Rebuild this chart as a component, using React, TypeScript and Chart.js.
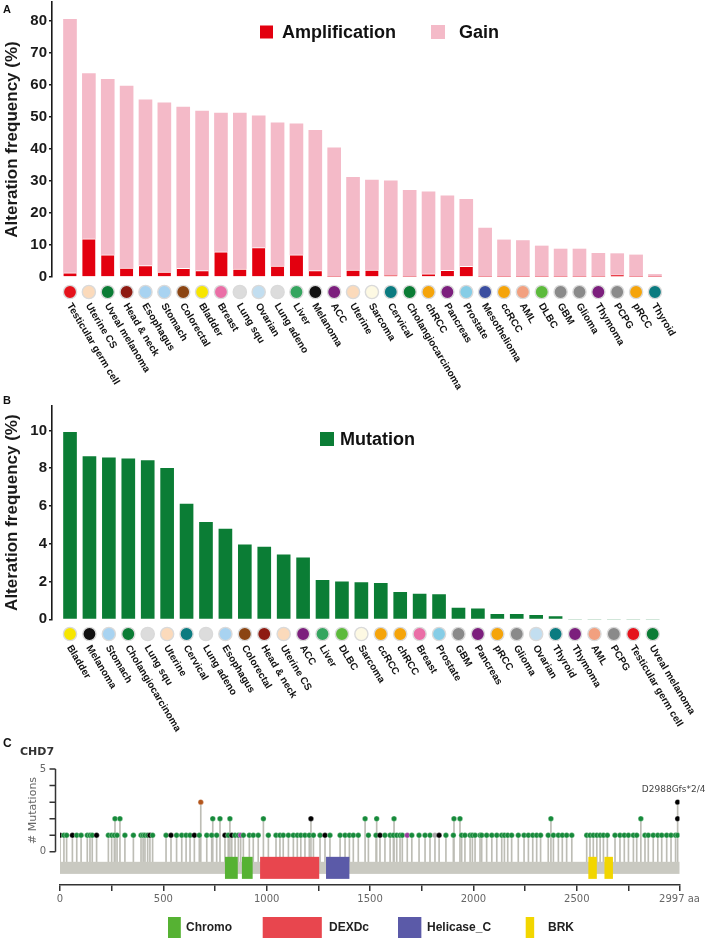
import React, { useEffect, useRef } from 'react';
import { Chart, registerables } from 'chart.js';

Chart.register(...registerables);

const FONT = "'Liberation Sans', Arial, Helvetica, sans-serif";
const CFONT = "'DejaVu Sans', Verdana, sans-serif";

// ---------- Panel A: copy-number alterations ----------
const cnaCancers = [
  'Testicular germ cell', 'Uterine CS', 'Uveal melanoma', 'Head & neck', 'Esophagus', 'Stomach',
  'Colorectal', 'Bladder', 'Breast', 'Lung squ', 'Ovarian', 'Lung adeno', 'Liver', 'Melanoma', 'ACC',
  'Uterine', 'Sarcoma', 'Cervical', 'Cholangiocarcinoma', 'chRCC', 'Pancreas', 'Prostate',
  'Mesothelioma', 'ccRCC', 'AML', 'DLBC', 'GBM', 'Glioma', 'Thymoma', 'PCPG', 'pRCC', 'Thyroid',
];
const amplification = [
  1.3, 11.9, 6.9, 2.8, 3.6, 1.5, 2.7, 2.0, 7.9, 2.5, 9.2, 3.4, 6.9, 2.0, 0,
  2.2, 2.2, 0.5, 0, 1.0, 2.1, 3.3, 0, 0, 0, 0, 0, 0, 0, 0.7, 0, 0,
];
const gain = [
  79.3, 51.7, 54.9, 56.9, 51.8, 53.0, 50.4, 49.9, 43.4, 48.8, 41.2, 44.8, 41.0, 43.9, 40.4,
  29.0, 28.1, 29.6, 27.1, 25.6, 23.3, 21.0, 15.3, 11.6, 11.4, 9.7, 8.75, 8.75, 7.4, 6.6, 6.9, 0.8,
];
const cnaTicks = [0, 10, 20, 30, 40, 50, 60, 70, 80];

// ---------- Panel B: mutations ----------
const mutCancers = [
  'Bladder', 'Melanoma', 'Stomach', 'Cholangiocarcinoma', 'Lung squ', 'Uterine', 'Cervical',
  'Lung adeno', 'Esophagus', 'Colorectal', 'Head & neck', 'Uterine CS', 'ACC', 'Liver', 'DLBC',
  'Sarcoma', 'ccRCC', 'chRCC', 'Breast', 'Prostate', 'GBM', 'Pancreas', 'pRCC', 'Glioma',
  'Ovarian', 'Thyroid', 'Thymoma', 'AML', 'PCPG', 'Testicular germ cell', 'Uveal melanoma',
];
const mutationFreq = [
  9.91, 8.62, 8.55, 8.5, 8.41, 8.0, 6.11, 5.14, 4.78, 3.95, 3.83, 3.42, 3.25, 2.07, 1.99,
  1.94, 1.91, 1.43, 1.34, 1.31, 0.6, 0.56, 0.26, 0.26, 0.21, 0.14, 0, 0, 0, 0, 0,
];
const mutTicks = [0, 2, 4, 6, 8, 10];

const cancerColors: Record<string, string> = {
  'Testicular germ cell': '#e5121b', 'Uterine CS': '#fbdabb', 'Uveal melanoma': '#0b7c35',
  'Head & neck': '#8e1b12', 'Esophagus': '#a8d3f1', 'Stomach': '#a8d3f1', 'Colorectal': '#8b4513',
  'Bladder': '#f7e600', 'Breast': '#ea6ea6', 'Lung squ': '#dcdcdc', 'Ovarian': '#c2def0',
  'Lung adeno': '#dcdcdc', 'Liver': '#35a55f', 'Melanoma': '#111111', 'ACC': '#7c1f7d',
  'Uterine': '#fbdabb', 'Sarcoma': '#fdf9e3', 'Cervical': '#0b7b80', 'Cholangiocarcinoma': '#0b7c35',
  'chRCC': '#f5a40a', 'Pancreas': '#7c1f7d', 'Prostate': '#86cde6', 'Mesothelioma': '#3b4ea0',
  'ccRCC': '#f5a40a', 'AML': '#f2a07f', 'DLBC': '#5cba3c', 'GBM': '#8a8a8a', 'Glioma': '#8a8a8a',
  'Thymoma': '#7c1f7d', 'PCPG': '#8a8a8a', 'pRCC': '#f5a40a', 'Thyroid': '#0b7b80',
};

// ---------- Panel C: CHD7 lollipop ----------
const geneName = 'CHD7';
const proteinLength = 2997;
const mutPositions = [
  0, 19, 32, 60, 81, 102, 132, 145, 156, 177, 234, 250, 263, 266, 276, 290, 314, 355, 392, 402,
  411, 424, 435, 448, 513, 537, 564, 589, 610, 629, 650, 674, 681, 710, 734, 739, 758, 774, 798,
  814, 822, 831, 847, 863, 874, 887, 916, 935, 959, 984, 1008, 1045, 1064, 1080, 1105, 1129, 1148,
  1165, 1185, 1206, 1214, 1226, 1258, 1282, 1306, 1355, 1379, 1400, 1419, 1443, 1476, 1492, 1529,
  1532, 1548, 1572, 1597, 1613, 1616, 1629, 1645, 1656, 1680, 1702, 1737, 1766, 1790, 1814, 1834,
  1867, 1903, 1906, 1935, 1943, 1959, 1984, 1995, 2008, 2032, 2040, 2064, 2089, 2113, 2137, 2150,
  2166, 2185, 2217, 2245, 2266, 2287, 2306, 2325, 2362, 2375, 2387, 2411, 2430, 2451, 2476, 2548,
  2564, 2580, 2597, 2613, 2629, 2648, 2685, 2709, 2730, 2750, 2774, 2790, 2810, 2830, 2846, 2870,
  2892, 2911, 2935, 2956, 2978, 2988,
];
const mutCounts = [
  1, 1, 1, 1, 1, 1, 1, 1, 1, 1, 1, 1, 1, 2, 1, 2, 1, 1, 1, 1,
  1, 1, 1, 1, 1, 1, 1, 1, 1, 1, 1, 1, 3, 1, 1, 2, 1, 2, 1,
  1, 2, 1, 1, 1, 1, 1, 1, 1, 1, 2, 1, 1, 1, 1, 1, 1, 1,
  1, 1, 1, 2, 1, 1, 1, 1, 1, 1, 1, 1, 1, 2, 1, 1,
  2, 1, 1, 1, 1, 2, 1, 1, 1, 1, 1, 1, 1, 1, 1, 1,
  1, 1, 2, 2, 1, 1, 1, 1, 1, 1, 1, 1, 1, 1, 1, 1,
  1, 1, 1, 1, 1, 1, 1, 1, 1, 2, 1, 1, 1, 1, 1, 1,
  1, 1, 1, 1, 1, 1, 1, 1, 1, 1, 1, 1, 2, 1, 1, 1,
  1, 1, 1, 1, 1, 3,
];
// m = missense, t = truncating, i = inframe, o = other, s = splice
const mutTypes = [
  't', 'm', 'm', 't', 'm', 'm', 'm', 'm', 'm', 't', 'm', 'm', 'm', 'm', 'm', 'm', 'm', 'm', 'm', 'm',
  'm', 'm', 't', 'm', 'm', 't', 'm', 'm', 'm', 'm', 't', 'm', 'i', 'm', 'm', 'm', 'm', 'm', 't',
  'm', 'm', 't', 'm', 'm', 'o', 'm', 'm', 'm', 'm', 'm', 'm', 'm', 'm', 'm', 'm', 'm', 'm',
  'm', 'm', 'm', 't', 'm', 'm', 't', 'm', 'm', 'm', 'm', 'm', 'm', 'm', 'm', 'm',
  'm', 't', 'm', 'm', 'm', 'm', 'm', 'm', 'm', 'o', 'm', 'm', 'm', 'm', 's', 't',
  'm', 'm', 'm', 'm', 'm', 'm', 'm', 'm', 'm', 'm', 'm', 'm', 'm', 'm', 'm', 'm',
  'm', 'm', 'm', 'm', 'm', 'm', 'm', 'm', 'm', 'm', 'm', 'm', 'm', 'm', 'm', 'm',
  'm', 'm', 'm', 'm', 'm', 'm', 'm', 'm', 'm', 'm', 'm', 'm', 'm', 'm', 'm', 'm',
  'm', 'm', 'm', 'm', 'm', 't',
];
const extraHeadPositions = [2988, 2988];
const extraHeadCounts = [2, 1];
const extraHeadTypes = ['t', 'm'];
const hotspotLabel = 'D2988Gfs*2/4';
const hotspotPosition = 2988;
const hotspotCount = 3;

const domainNames = ['Chromo', 'Chromo', 'DEXDc', 'Helicase_C', 'BRK', 'BRK'];
const domainStarts = [798, 880, 968, 1287, 2556, 2634];
const domainEnds = [860, 932, 1254, 1400, 2597, 2675];
const domainLegend = ['Chromo', 'DEXDc', 'Helicase_C', 'BRK'];
const cXTicks = [0, 250, 500, 750, 1000, 1250, 1500, 1750, 2000, 2250, 2500, 2750, 2997];

const typeColors: Record<string, string> = {
  m: '#168a3a', t: '#000000', i: '#b3561c', o: '#9a3b9e', s: '#a6a6a6',
};
const domainColors: Record<string, string> = {
  Chromo: '#56b233', DEXDc: '#e8464e', Helicase_C: '#5b5aa8', BRK: '#f2d600',
};

// ---------- helpers ----------
function drawCategoryDecor(chart: any, names: string[], dotOffset: number) {
  const { ctx, chartArea } = chart;
  const xs = chart.scales.x;
  const dotY = chartArea.bottom + dotOffset;
  ctx.save();
  names.forEach((name, i) => {
    const px = xs.getPixelForValue(i);
    ctx.beginPath();
    ctx.arc(px, dotY, 6.6, 0, Math.PI * 2);
    ctx.fillStyle = cancerColors[name] || '#999';
    ctx.fill();
    ctx.lineWidth = 1.4;
    ctx.strokeStyle = '#dadada';
    ctx.stroke();
    ctx.save();
    ctx.translate(px - 1, dotY + 12);
    ctx.rotate((59 * Math.PI) / 180);
    ctx.font = `bold 10px ${FONT}`;
    ctx.fillStyle = '#111';
    ctx.textAlign = 'left';
    ctx.textBaseline = 'middle';
    ctx.fillText(name, 0, 0);
    ctx.restore();
  });
  ctx.restore();
}

function drawLegendItem(ctx: CanvasRenderingContext2D, x: number, y: number, size: number, color: string, text: string, textX: number) {
  ctx.fillStyle = color;
  ctx.fillRect(x, y - size / 2, size, size);
  ctx.font = `bold 18px ${FONT}`;
  ctx.fillStyle = '#111';
  ctx.textAlign = 'left';
  ctx.textBaseline = 'middle';
  ctx.fillText(text, textX, y + 1);
}

function yAxisOptions(min: number, max: number, tickValues: number[]) {
  return {
    min,
    max,
    stacked: true,
    afterBuildTicks: (s: any) => { s.ticks = tickValues.map((v) => ({ value: v })); },
    afterFit: (s: any) => { s.width = 52; s.paddingTop = 0; s.paddingBottom = 0; },
    border: { color: '#1a1a1a', width: 1.6 },
    grid: { drawOnChartArea: false, tickLength: 3, color: '#1a1a1a', lineWidth: 1.6 },
    ticks: { font: { family: FONT, size: 15, weight: 'bold' }, color: '#1a1a1a', padding: 2 },
    title: {
      display: true,
      text: 'Alteration frequency (%)',
      font: { family: FONT, size: 17, weight: 'bold' },
      color: '#1a1a1a',
      padding: { top: 2, bottom: 0 },
    },
  };
}

const panelA = {
  id: 'panelA',
  afterDraw(chart: any) {
    const { ctx } = chart;
    drawCategoryDecor(chart, cnaCancers, 15);
    ctx.save();
    drawLegendItem(ctx, 260, 32, 13, '#e3000f', 'Amplification', 282);
    drawLegendItem(ctx, 431, 32, 14, '#f4bac8', 'Gain', 459);
    ctx.font = `bold 11px ${FONT}`;
    ctx.fillStyle = '#111';
    ctx.textAlign = 'left';
    ctx.textBaseline = 'alphabetic';
    ctx.fillText('A', 3, 13);
    ctx.restore();
  },
};

const panelB = {
  id: 'panelB',
  afterDraw(chart: any) {
    const { ctx } = chart;
    drawCategoryDecor(chart, mutCancers, 14.7);
    ctx.save();
    drawLegendItem(ctx, 320, 49, 14, '#0b7d35', 'Mutation', 340);
    ctx.font = `bold 11px ${FONT}`;
    ctx.fillStyle = '#111';
    ctx.textAlign = 'left';
    ctx.textBaseline = 'alphabetic';
    ctx.fillText('B', 3, 14);
    ctx.restore();
  },
};

const BAND_TOP = -0.6;
const BAND_BOTTOM = -1.33;
const DOMAIN_TOP = -0.3;
const DOMAIN_BOTTOM = -1.63;
const legendBoxX = [168, 262.7, 398, 525.7];
const legendTextX = [186, 329, 427, 548];

const panelC = {
  id: 'panelC',
  afterDatasetsDraw(chart: any) {
    const { ctx } = chart;
    const xs = chart.scales.x;
    const ys = chart.scales.y;
    ctx.save();
    ctx.fillStyle = '#c9c9c1';
    const bx0 = xs.getPixelForValue(0);
    const bx1 = xs.getPixelForValue(proteinLength);
    const by0 = ys.getPixelForValue(BAND_TOP);
    const by1 = ys.getPixelForValue(BAND_BOTTOM);
    ctx.fillRect(bx0, by0, bx1 - bx0, by1 - by0);
    const dy0 = ys.getPixelForValue(DOMAIN_TOP);
    const dy1 = ys.getPixelForValue(DOMAIN_BOTTOM);
    domainNames.forEach((n, i) => {
      const a = xs.getPixelForValue(domainStarts[i]);
      const b = xs.getPixelForValue(domainEnds[i]);
      ctx.fillStyle = domainColors[n];
      ctx.fillRect(a, dy0, b - a, dy1 - dy0);
    });
    ctx.restore();
  },
  afterDraw(chart: any) {
    const { ctx, chartArea } = chart;
    const xs = chart.scales.x;
    const ys = chart.scales.y;
    ctx.save();
    // y axis
    const ax = chartArea.left - 4.5;
    const y0 = ys.getPixelForValue(0);
    const y5 = ys.getPixelForValue(5);
    ctx.strokeStyle = '#333';
    ctx.lineWidth = 1.5;
    ctx.beginPath();
    ctx.moveTo(ax, y5);
    ctx.lineTo(ax, y0);
    for (let v = 0; v <= 5; v++) {
      const yy = ys.getPixelForValue(v);
      ctx.moveTo(ax - 6, yy);
      ctx.lineTo(ax, yy);
    }
    ctx.stroke();
    ctx.font = `10px ${CFONT}`;
    ctx.fillStyle = '#666';
    ctx.textAlign = 'center';
    ctx.textBaseline = 'middle';
    ctx.fillText('0', 43, y0);
    ctx.fillText('5', 43, y5);
    ctx.save();
    ctx.translate(33, (y0 + y5) / 2);
    ctx.rotate(-Math.PI / 2);
    ctx.font = `11px ${CFONT}`;
    ctx.fillText('# Mutations', 0, 0);
    ctx.restore();
    // hotspot label
    ctx.font = `9px ${CFONT}`;
    ctx.fillStyle = '#444';
    ctx.textAlign = 'center';
    ctx.textBaseline = 'middle';
    ctx.fillText(hotspotLabel, xs.getPixelForValue(hotspotPosition) - 4, ys.getPixelForValue(hotspotCount) - 12);
    // panel letter and gene
    ctx.textAlign = 'left';
    ctx.textBaseline = 'alphabetic';
    ctx.font = `bold 12px ${FONT}`;
    ctx.fillStyle = '#111';
    ctx.fillText('C', 3, 17);
    ctx.font = `bold 11px ${CFONT}`;
    ctx.fillStyle = '#333';
    ctx.fillText(geneName, 20, 25);
    // domain legend
    domainLegend.forEach((n, k) => {
      const idx = domainNames.indexOf(n);
      const w = xs.getPixelForValue(domainEnds[idx]) - xs.getPixelForValue(domainStarts[idx]);
      ctx.fillStyle = domainColors[n];
      ctx.fillRect(legendBoxX[k], 187, w, 21);
      ctx.font = `bold 12px ${FONT}`;
      ctx.fillStyle = '#222';
      ctx.textBaseline = 'middle';
      ctx.fillText(n, legendTextX[k], 198);
    });
    ctx.restore();
  },
};

function useChart(ref: React.RefObject<HTMLCanvasElement>, make: () => any) {
  useEffect(() => {
    if (!ref.current) return;
    const chart = new Chart(ref.current, make());
    return () => chart.destroy();
  }, []);
}

export default function App() {
  const refA = useRef<HTMLCanvasElement>(null);
  const refB = useRef<HTMLCanvasElement>(null);
  const refC = useRef<HTMLCanvasElement>(null);

  useChart(refA, () => ({
    type: 'bar',
    data: {
      datasets: [
        {
          label: 'Amplification',
          data: amplification.map((v, i) => ({ x: i, y: v })),
          backgroundColor: '#e3000f',
          borderColor: '#ffffff',
          borderWidth: { top: 1, left: 0, right: 0, bottom: 0 },
          borderSkipped: false,
          barThickness: 13,
        },
        {
          label: 'Gain',
          data: gain.map((v, i) => ({ x: i, y: v })),
          backgroundColor: '#f4bac8',
          barThickness: 13,
        },
      ],
    },
    options: {
      animation: false,
      responsive: false,
      layout: { padding: { top: 2, left: 0, right: 19, bottom: 163 } },
      plugins: { legend: { display: false }, tooltip: { enabled: false } },
      scales: {
        x: { type: 'linear', offset: false, min: -0.954, max: 32.857, display: false, stacked: true },
        y: yAxisOptions(0, 86, cnaTicks),
      },
    },
    plugins: [panelA],
  }));

  useChart(refB, () => ({
    type: 'bar',
    data: {
      datasets: [
        {
          label: 'Mutation',
          data: mutationFreq.map((v, i) => ({ x: i, y: v })),
          backgroundColor: '#0b7d35',
          barThickness: 13,
        },
      ],
    },
    options: {
      animation: false,
      responsive: false,
      layout: { padding: { top: 16, left: 0, right: 19, bottom: 115.7 } },
      plugins: { legend: { display: false }, tooltip: { enabled: false } },
      scales: {
        x: { type: 'linear', offset: false, min: -0.928, max: 31.92, display: false },
        y: yAxisOptions(0, 11.3, mutTicks),
      },
    },
    plugins: [panelB],
  }));

  useChart(refC, () => {
    const heads = mutPositions.map((p, i) => ({ x: p, y: mutCounts[i] }))
      .concat(extraHeadPositions.map((p, i) => ({ x: p, y: extraHeadCounts[i] })));
    const headColors = mutTypes.concat(extraHeadTypes).map((t) => typeColors[t]);
    return {
      type: 'bar',
      data: {
        datasets: [
          {
            type: 'scatter',
            label: 'heads',
            data: heads,
            pointRadius: 2.7,
            pointBackgroundColor: headColors,
            pointBorderColor: 'rgba(255,255,255,0.6)',
            pointBorderWidth: 0.5,
            order: 0,
          },
          {
            type: 'bar',
            label: 'sticks',
            data: mutPositions.map((p, i) => ({ x: p, y: [BAND_TOP, mutCounts[i]] })),
            backgroundColor: '#bdbdb5',
            barThickness: 1,
            order: 1,
          },
        ],
      },
      options: {
        animation: false,
        responsive: false,
        layout: { padding: { top: 35.7, left: 60, right: 29.5, bottom: 30 } },
        plugins: { legend: { display: false }, tooltip: { enabled: false } },
        scales: {
          x: {
            type: 'linear',
            offset: false,
            min: 0,
            max: proteinLength,
            afterBuildTicks: (s: any) => { s.ticks = cXTicks.map((v) => ({ value: v })); },
            afterFit: (s: any) => { s.height = 25; s.paddingLeft = 0; s.paddingRight = 0; },
            border: { color: '#333', width: 1.5 },
            grid: { drawOnChartArea: false, offset: false, tickLength: 6, color: '#333', lineWidth: 1.5 },
            ticks: {
              autoSkip: false,
              maxRotation: 0,
              padding: 2,
              color: '#666',
              font: { family: CFONT, size: 10 },
              callback: (v: number) => (v === proteinLength ? `${proteinLength} aa` : v % 500 === 0 ? String(v) : ''),
            },
          },
          y: { min: -2, max: 5.2, display: false },
        },
      },
      plugins: [panelC],
    };
  });

  const canvasStyle = (top: number, h: number): React.CSSProperties => ({
    position: 'absolute', left: 0, top, width: 709, height: h, display: 'block',
  });

  return (
    <div style={{ position: 'absolute', left: 0, top: 0, width: 709, height: 940, background: '#fff', overflow: 'hidden' }}>
      <canvas ref={refA} width={709} height={440} style={canvasStyle(0, 440)} />
      <canvas ref={refB} width={709} height={345} style={canvasStyle(390, 345)} />
      <canvas ref={refC} width={709} height={210} style={canvasStyle(730, 210)} />
    </div>
  );
}
